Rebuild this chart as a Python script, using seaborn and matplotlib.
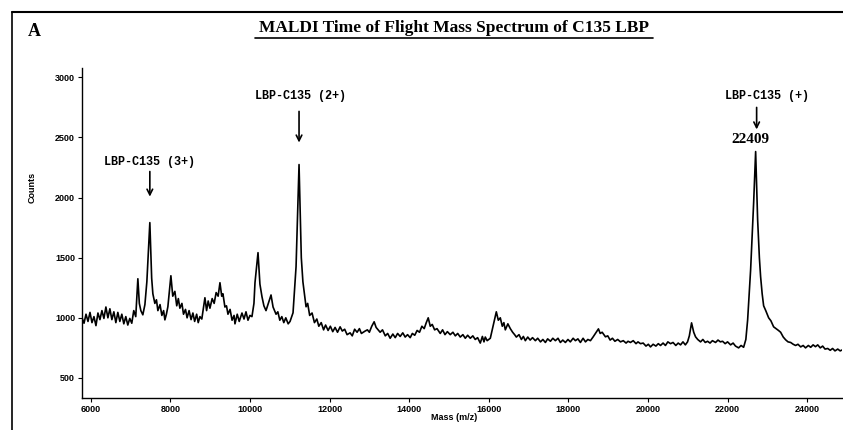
import matplotlib
matplotlib.use("Agg")
import matplotlib.pyplot as plt
from matplotlib.lines import Line2D
import seaborn as sns
import pandas as pd

# spectrum (mass in m/z, intensity in counts)
mass = [5780, 5830, 5880, 5930, 5980, 6030, 6080, 6130, 6180, 6230,
        6280, 6330, 6380, 6430, 6480, 6530, 6580, 6630, 6680, 6730,
        6780, 6830, 6880, 6930, 6980, 7030, 7080, 7130, 7183, 7220,
        7258, 7308, 7360, 7409, 7484, 7530, 7560, 7610, 7650, 7686,
        7740, 7786, 7830, 7862, 7900, 7937, 8013, 8060, 8113, 8160,
        8200, 8239, 8290, 8330, 8380, 8420, 8470, 8520, 8566, 8610,
        8660, 8700, 8742, 8790, 8830, 8868, 8910, 8950, 8994, 9050,
        9100, 9150, 9200, 9246, 9290, 9321, 9370, 9410, 9447, 9500,
        9550, 9600, 9623, 9680, 9730, 9799, 9850, 9900, 9950, 10000,
        10050, 10100, 10126, 10202, 10250, 10302, 10350, 10403, 10460, 10529,
        10580, 10655, 10700, 10750, 10800, 10850, 10900, 10960, 11007, 11082,
        11158, 11233, 11290, 11330, 11409, 11450, 11500, 11560, 11620, 11680,
        11730, 11790, 11850, 11900, 11963, 12020, 12080, 12139, 12200, 12265,
        12320, 12380, 12440, 12516, 12570, 12630, 12692, 12750, 12800, 12894,
        12950, 13000, 13060, 13120, 13170, 13220, 13271, 13330, 13400, 13460,
        13523, 13590, 13650, 13710, 13774, 13840, 13900, 13960, 14026, 14080,
        14140, 14200, 14260, 14320, 14378, 14430, 14479, 14530, 14580, 14640,
        14700, 14781, 14840, 14900, 14960, 15032, 15100, 15160, 15220, 15284,
        15350, 15410, 15470, 15536, 15600, 15660, 15720, 15787, 15840, 15880,
        15913, 15960, 16039, 16080, 16114, 16190, 16240, 16290, 16340, 16380,
        16416, 16480, 16542, 16600, 16650, 16693, 16760, 16820, 16870, 16919,
        16980, 17040, 17100, 17171, 17230, 17300, 17360, 17423, 17480, 17550,
        17610, 17674, 17740, 17800, 17860, 17926, 17990, 18050, 18120, 18177,
        18240, 18303, 18370, 18430, 18490, 18555, 18620, 18680, 18756, 18800,
        18850, 18932, 18990, 19050, 19108, 19170, 19240, 19310, 19380, 19450,
        19500, 19561, 19630, 19700, 19750, 19813, 19880, 19950, 20010, 20064,
        20130, 20200, 20260, 20316, 20380, 20440, 20500, 20568, 20630, 20700,
        20760, 20819, 20880, 20940, 20995, 21040, 21096, 21150, 21196, 21250,
        21322, 21380, 21440, 21498, 21560, 21620, 21699, 21760, 21820, 21875,
        21940, 22000, 22077, 22140, 22200, 22278, 22340, 22404, 22460, 22505,
        22580, 22656, 22706, 22756, 22800, 22831, 22870, 22907, 22960, 23033,
        23090, 23158, 23220, 23280, 23334, 23400, 23460, 23520, 23586, 23650,
        23710, 23770, 23838, 23900, 23960, 24030, 24090, 24150, 24210, 24266,
        24330, 24390, 24450, 24517, 24580, 24640, 24700, 24769, 24830, 24895]
counts = [1000, 955, 1030, 970, 1045, 960, 1010, 935, 1040, 985,
          1060, 995, 1090, 1000, 1075, 985, 1050, 960, 1045, 970,
          1030, 950, 1010, 940, 995, 955, 1060, 1010, 1325, 1120,
          1060, 1025, 1110, 1300, 1792, 1330, 1200, 1120, 1150, 1060,
          1110, 1020, 1060, 983, 1030, 1092, 1350, 1180, 1220, 1100,
          1160, 1080, 1120, 1030, 1070, 1000, 1060, 985, 1040, 970,
          1030, 960, 1010, 990, 1080, 1167, 1060, 1140, 1080, 1160,
          1120, 1210, 1180, 1292, 1180, 1200, 1090, 1100, 1030, 1070,
          980, 1020, 950, 1030, 970, 1040, 990, 1050, 980, 1020,
          1010, 1120, 1292, 1542, 1280, 1175, 1100, 1060, 1120, 1190,
          1090, 1030, 1050, 980, 1010, 960, 1000, 950, 970, 1042,
          1425, 2275, 1500, 1300, 1092, 1120, 1020, 1040, 960, 990,
          930, 960, 900, 940, 895, 930, 885, 920, 880, 925,
          890, 905, 860, 875, 850, 905, 880, 910, 870, 890,
          900, 880, 930, 967, 920, 900, 880, 900, 850, 870,
          830, 865, 835, 870, 845, 875, 840, 860, 835, 870,
          855, 895, 880, 930, 910, 960, 1000, 930, 945, 900,
          910, 870, 900, 860, 885, 860, 880, 850, 870, 840,
          860, 830, 855, 830, 850, 820, 835, 790, 845, 800,
          840, 810, 830, 890, 942, 1050, 980, 1000, 930, 960,
          900, 950, 910, 880, 860, 840, 860, 820, 845, 810,
          840, 815, 835, 810, 830, 800, 820, 795, 825, 805,
          830, 810, 830, 795, 815, 795, 820, 800, 830, 810,
          825, 795, 830, 800, 820, 810, 840, 870, 908, 870,
          880, 842, 850, 815, 830, 805, 820, 800, 810, 790,
          805, 795, 810, 785, 800, 785, 790, 765, 780, 758,
          780, 765, 785, 770, 790, 770, 800, 785, 795, 770,
          790, 775, 800, 775, 800, 850, 958, 880, 842, 820,
          800, 820, 795, 805, 790, 810, 795, 815, 800, 805,
          785, 800, 775, 790, 765, 750, 770, 755, 820, 983,
          1400, 1958, 2383, 1817, 1500, 1342, 1200, 1100, 1060, 1000,
          975, 925, 910, 895, 880, 840, 817, 800, 795, 780,
          770, 780, 758, 770, 750, 770, 755, 775, 760, 775,
          750, 765, 740, 745, 730, 745, 725, 740, 725, 735]

xticks = [6000, 8000, 10000, 12000, 14000, 16000, 18000, 20000, 22000, 24000]
yticks = [500, 1000, 1500, 2000, 2500, 3000]

# peak labels: (text, arrow x, arrow tip y, arrow tail y, text x, text y)
peak_labels = [
    ("LBP-C135 (3+)", 7484, 2008, 2217, 7484, 2300),
    ("LBP-C135 (2+)", 11233, 2458, 2717, 11260, 2842),
    ("LBP-C135 (+)", 22731, 2567, 2750, 22983, 2842),
]

df = pd.DataFrame({"Mass": mass, "Counts": counts})

sns.set_style("ticks")
plt.rcParams["text.color"] = "black"
plt.rcParams["axes.labelcolor"] = "black"
plt.rcParams["xtick.color"] = "black"
plt.rcParams["ytick.color"] = "black"

fig = plt.figure(figsize=(8.43, 4.30), dpi=100)
ax = fig.add_axes([0.0973, 0.0744, 0.9017, 0.768])

sns.lineplot(data=df, x="Mass", y="Counts", ax=ax, color="black", linewidth=1.2)

ax.set_xlim(5780, 24880)
ax.set_ylim(333, 3080)
ax.set_xticks(xticks)
ax.set_yticks(yticks)
ax.set_xticklabels([str(t) for t in xticks], fontsize=6.5, fontweight="bold", family="Liberation Sans")
ax.set_yticklabels([str(t) for t in yticks], fontsize=6.5, fontweight="bold", family="Liberation Sans")
ax.tick_params(length=3, width=0.8, pad=2, colors="black")
for s in ["left", "bottom"]:
    ax.spines[s].set_color("black")
    ax.spines[s].set_linewidth(1.0)
sns.despine(ax=ax)

ax.set_xlabel("Mass (m/z)", fontsize=6.5, fontweight="bold", family="Liberation Sans")
ax.set_ylabel("Counts", fontsize=6.5, fontweight="bold", family="Liberation Sans")
ax.xaxis.set_label_coords((455 - 82) / 761, -(413 - 398) / 330)
ax.yaxis.set_label_coords(-(82 - 37) / 761, (398 - 188) / 330)

for txt, ax_x, tip_y, tail_y, tx, ty in peak_labels:
    ax.annotate("", xy=(ax_x, tip_y), xytext=(ax_x, tail_y),
                arrowprops=dict(arrowstyle="->", color="black", lw=1.2,
                                shrinkA=0, shrinkB=0))
    ax.text(tx, ty, txt, ha="center", va="center", fontsize=8.5,
            family="Liberation Mono", fontweight="bold", color="black")

ax.text(22580, 2483, "22409", ha="center", va="center", fontsize=11,
        family="Liberation Serif", fontweight="bold", color="black")

# panel letter, underlined title and outer frame
fig.text(28 / 843, 1 - 32 / 430, "A", fontsize=13, fontweight="bold",
         family="Liberation Serif", va="center", ha="left", color="black")
fig.text(454 / 843, 1 - 28 / 430, "MALDI Time of Flight Mass Spectrum of C135 LBP",
         fontsize=12.5, fontweight="bold", family="Liberation Serif",
         ha="center", va="center", color="black")
fig.add_artist(Line2D([255 / 843, 653 / 843], [1 - 38 / 430, 1 - 38 / 430],
                      color="black", lw=1.2))
fig.add_artist(Line2D([12 / 843, 12 / 843], [0, 1 - 12 / 430], color="black", lw=1.2))
fig.add_artist(Line2D([12 / 843, 1], [1 - 12 / 430, 1 - 12 / 430], color="black", lw=1.5))

fig.savefig("out.png", dpi=100)
